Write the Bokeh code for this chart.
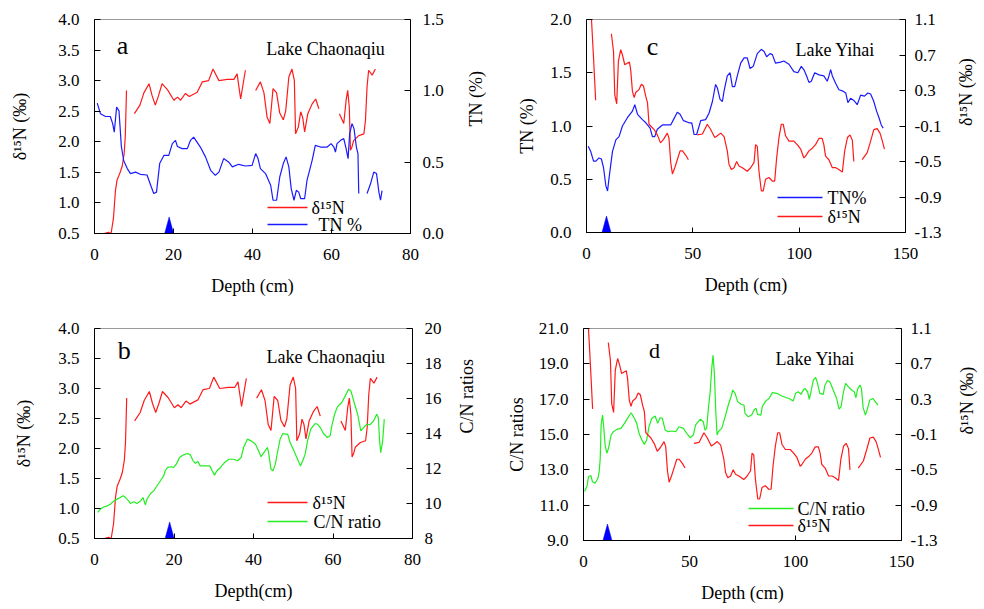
import math
from bokeh.plotting import figure
from bokeh.models import Range1d, LinearAxis, Label, FixedTicker
from bokeh.layouts import column, row
from bokeh.embed import file_html
from bokeh.resources import INLINE

NaN = float("nan")

# ---------------- Lake Chaonaqiu (panels a, b) ----------------
cha_d15n_depth = [2.5, 3.5, 4.2, 4.8, 5.3, 5.7, 6.5, 7.0, 7.5, 7.8, 8.1, NaN,
                  10.1, 11.5, 12.5, 13.8, 14.6, 15.4, 16.2, 17.1, 18.5, 20.1, 21.0, 21.8, 23.0, 24.0, 26.0, 27.3, 28.9, 30.0, 31.5, 33.6, 35.3, 36.1, 37.0, 38.2, NaN,
                  40.8, 42.0, 42.9, 43.7, 44.4, 45.2, 46.1, 46.9, 47.8, 48.4, 49.2, 50.0, 50.6, 50.9, 51.6, 52.2, 52.7, 53.2, 54.0, 55.1, 56.0, 56.8, NaN,
                  62.0, 63.1, 63.7, 64.1, 64.5, 64.8, 65.2, 65.6, 66.9, 68.2, 68.6, 69.0, 69.4, 70.3, 71.1]
cha_d15n = [0.50, 0.52, 0.50, 0.75, 1.20, 1.37, 1.50, 1.60, 1.80, 2.10, 2.84, NaN,
            2.46, 2.60, 2.80, 2.95, 2.75, 2.60, 2.75, 2.95, 2.85, 2.68, 2.73, 2.68, 2.79, 2.74, 2.81, 2.98, 3.00, 3.19, 3.00, 3.02, 3.02, 3.11, 2.70, 3.17, NaN,
            2.84, 2.98, 2.80, 2.40, 2.30, 2.87, 2.80, 2.47, 2.36, 2.50, 3.06, 3.19, 3.00, 2.13, 2.24, 2.49, 2.40, 2.16, 2.46, 2.62, 2.70, 2.54, NaN,
            2.46, 2.30, 2.68, 2.84, 2.57, 1.86, 1.92, 2.02, 2.10, 2.13, 2.35, 2.90, 3.17, 3.09, 3.19]

cha_tn_depth = [0.7, 1.5, 2.8, 4.0, 4.6, 5.0, 5.6, 6.2, 6.8, 7.4, 8.3, 9.1, 10.4, 11.6, 13.3, 14.2, 15.0, 15.7, 16.5, 17.6, 18.8, 19.7, 20.5, 21.0, 22.2, 23.5, 24.3, 25.1, 26.8, 28.1, 29.4, 30.6, 31.5, 32.7, 34.0, 34.9, 36.5, 38.2, 39.9, 40.8, 41.4, 42.0, 43.3, 44.6, 45.2, 46.1, 46.9, 47.8, 48.5, 49.2, 49.8, 50.5, 51.1, 51.7, 52.2, 53.2, 53.8, 55.1, 55.9, 57.2, 58.9, 59.9, 60.6, 61.0, 61.4, 62.3, 63.1, 63.7, 64.2, 64.6, 65.2, 65.7, 66.3, 66.7, 66.9, NaN,
                69.0, 69.9, 70.7, 71.4, 72.0, 72.4, 72.8]
cha_tn = [0.914, 0.84, 0.82, 0.82, 0.77, 0.71, 0.886, 0.86, 0.61, 0.51, 0.455, 0.42, 0.43, 0.415, 0.41, 0.34, 0.28, 0.29, 0.49, 0.548, 0.548, 0.63, 0.653, 0.61, 0.595, 0.595, 0.653, 0.676, 0.606, 0.537, 0.443, 0.408, 0.43, 0.525, 0.50, 0.467, 0.485, 0.473, 0.478, 0.56, 0.525, 0.455, 0.42, 0.338, 0.233, 0.233, 0.396, 0.49, 0.537, 0.467, 0.315, 0.233, 0.303, 0.29, 0.245, 0.245, 0.373, 0.513, 0.618, 0.606, 0.606, 0.63, 0.606, 0.571, 0.63, 0.653, 0.665, 0.595, 0.525, 0.70, 0.77, 0.735, 0.606, 0.56, 0.28, NaN,
          0.28, 0.35, 0.43, 0.42, 0.29, 0.233, 0.30]

cha_cn_depth = [0.8, 1.5, 2.3, 3.2, 4.0, 4.9, 5.7, 6.5, 7.2, 7.8, 8.6, 9.0, 9.9, 10.7, 11.6, 12.2, 12.8, 13.2, 14.1, 14.9, 15.7, 16.6, 17.4, 17.8, 18.4, 19.3, 19.9, 20.6, 21.4, 22.4, 23.4, 24.1, 24.8, 25.4, 26.0, 26.6, 27.9, 29.0, 29.6, 30.2, 30.8, 31.7, 32.7, 33.8, 35.0, 36.0, 36.9, 37.5, 38.5, 39.6, 40.5, 41.3, 41.9, 42.6, 43.5, 43.8, 44.4, 44.9, 45.5, 46.1, 46.7, 47.4, 48.0, 48.6, 49.2, 50.1, 50.9, 51.8, 52.4, 53.0, 53.6, 54.4, 55.5, 56.1, 56.8, 57.6, 58.6, 59.3, 59.7, 60.4, 61.1, 62.2, 63.1, 63.9, 64.5, 65.2, 66.2, 67.0, 67.7, 68.5, 69.3, 70.2, 71.0, 71.4, 71.7, 72.0, 72.5, 72.9]
cha_cn = [9.49, 9.68, 9.80, 9.86, 9.96, 10.15, 10.25, 10.34, 10.44, 10.34, 10.15, 10.0, 10.1, 10.0, 10.15, 10.34, 9.92, 10.25, 10.57, 10.72, 11.0, 11.3, 11.58, 11.87, 12.06, 12.1, 12.06, 12.25, 12.63, 12.78, 12.86, 12.78, 12.44, 12.3, 12.4, 12.15, 12.15, 12.15, 11.87, 11.62, 11.87, 12.06, 12.34, 12.53, 12.53, 12.44, 12.63, 13.2, 13.68, 13.55, 13.39, 13.0, 12.67, 12.91, 13.2, 12.91, 11.96, 11.87, 12.25, 13.0, 13.68, 14.0, 13.96, 13.96, 13.48, 13.05, 12.63, 12.15, 12.44, 12.82, 13.58, 14.25, 14.57, 14.53, 14.34, 14.0, 13.77, 13.87, 14.44, 15.1, 15.52, 15.77, 16.15, 16.53, 16.44, 15.87, 15.1, 14.15, 14.34, 14.53, 14.5, 14.72, 15.1, 14.91, 13.68, 12.91, 13.58, 14.82]

cha_event_depth = [18.9]

# ---------------- Lake Yihai (panels c, d) ----------------
yi_tn_depth = [0.8, 2.0, 3.3, 4.4, 5.9, 7.0, 8.0, 9.1, 9.9, 10.6, 12.2, 13.8, 15.3, 16.9, 19.3, 21.6, 22.7, 24.0, 26.3, 27.9, 29.9, 31.0, 32.1, 33.3, 35.7, 38.0, 39.6, 40.9, 42.7, 44.0, 45.6, 48.2, 49.5, 50.6, 51.8, 53.7, 56.0, 57.6, 59.2, 60.7, 61.5, 62.8, 63.9, 64.7, 66.2, 67.5, 68.6, 69.7, 70.9, 72.5, 74.1, 75.6, 76.9, 78.4, 80.3, 82.2, 83.5, 84.7, 86.3, 87.4, 88.9, 91.3, 92.8, 95.2, 97.5, 99.4, 101.0, 102.2, 103.5, 104.6, 105.7, 107.3, 109.3, 111.6, 113.2, 114.0, 114.8, 115.6, 117.2, 118.7, 120.3, 121.9, 122.9, 124.2, 125.7, 127.3, 128.9, 130.7, 132.3, 133.6, 135.1, 136.4, 137.5, 138.6, 139.5]
yi_tn = [0.81, 0.76, 0.67, 0.67, 0.70, 0.69, 0.61, 0.44, 0.39, 0.51, 0.76, 0.87, 0.90, 1.00, 1.08, 1.14, 1.20, 1.11, 1.06, 1.03, 0.98, 0.90, 0.90, 0.97, 1.01, 1.01, 1.01, 1.06, 1.13, 1.11, 1.05, 1.03, 1.03, 0.92, 0.92, 1.05, 1.06, 1.12, 1.23, 1.39, 1.36, 1.25, 1.23, 1.33, 1.47, 1.50, 1.37, 1.37, 1.47, 1.59, 1.64, 1.64, 1.54, 1.56, 1.68, 1.72, 1.70, 1.65, 1.68, 1.67, 1.59, 1.60, 1.61, 1.58, 1.51, 1.50, 1.56, 1.53, 1.47, 1.41, 1.42, 1.50, 1.48, 1.47, 1.42, 1.47, 1.53, 1.47, 1.40, 1.34, 1.33, 1.31, 1.22, 1.26, 1.24, 1.20, 1.29, 1.28, 1.31, 1.30, 1.23, 1.14, 1.08, 1.01, 0.98]

yi_d15n_depth = [2.3, 3.3, 4.3, NaN,
                 11.7, 12.7, 13.3, 14.2, 15.0, 16.1, 16.9, 18.0, 19.3, 20.2, 20.8, 21.6, 22.4, 23.2, 24.7, 25.8, 26.8, 27.9, 28.7, 29.4, 30.2, 31.8, 33.3, 34.8, 36.2, 38.0, 38.8, 39.6, 40.4, 41.5, 42.7, 44.0, 45.1, 46.7, 47.9, NaN,
                 52.1, 54.5, 56.8, 58.4, 60.3, 61.5, 63.1, 64.7, 66.2, 67.0, 68.1, 69.4, 70.6, 71.7, 73.3, 75.6, 77.2, 78.8, 79.5, 80.3, 81.1, 82.2, 83.1, 84.2, 85.8, 87.4, 88.5, 89.4, 90.5, 91.6, 92.5, 93.6, 95.2, 97.5, 99.1, 100.7, 102.2, 103.0, 104.6, 106.2, 107.7, 109.3, 110.8, 111.6, 112.4, 114.0, 115.6, 117.2, 118.7, 120.3, 121.4, 122.7, 123.9, 125.0, 125.7, NaN,
                 129.6, 132.0, 133.6, 135.1, 136.7, 138.0, 139.0, 140.1]
yi_d15n = [1.12, 0.67, 0.19, NaN,
           0.94, 0.74, 0.25, 0.15, 0.63, 0.76, 0.70, 0.59, 0.61, 0.62, 0.53, 0.29, 0.22, 0.28, 0.31, 0.37, 0.35, 0.23, 0.16, -0.08, -0.10, -0.14, -0.20, -0.29, -0.25, -0.18, -0.24, -0.51, -0.64, -0.57, -0.48, -0.38, -0.38, -0.43, -0.48, NaN,
           -0.20, -0.19, -0.08, -0.14, -0.23, -0.21, -0.18, -0.22, -0.38, -0.53, -0.59, -0.57, -0.50, -0.55, -0.57, -0.61, -0.57, -0.51, -0.31, -0.33, -0.61, -0.83, -0.83, -0.70, -0.68, -0.72, -0.72, -0.46, -0.23, -0.08, -0.08, -0.21, -0.27, -0.27, -0.31, -0.36, -0.46, -0.44, -0.38, -0.35, -0.31, -0.24, -0.24, -0.31, -0.44, -0.48, -0.57, -0.57, -0.59, -0.62, -0.38, -0.23, -0.20, -0.26, -0.50, NaN,
           -0.48, -0.40, -0.27, -0.14, -0.13, -0.18, -0.26, -0.36]

yi_cn_depth = [0.5, 1.6, 2.4, 3.5, 4.2, 5.5, 6.8, 7.4, 7.9, 8.3, 9.0, 9.6, 10.2, 11.0, 11.8, 13.0, 14.1, 15.7, 17.7, 19.3, 21.2, 22.5, 23.6, 25.1, 26.2, 27.5, 28.7, 29.8, 30.9, 32.2, 33.8, 35.0, 36.1, 37.2, 38.5, 40.0, 41.6, 43.5, 45.1, 47.1, 48.7, 50.3, 51.8, 52.9, 55.0, 56.5, 57.3, 58.1, 58.9, 59.7, 60.5, 61.1, 61.7, 62.4, 63.0, 63.6, 65.2, 66.8, 68.3, 69.6, 70.4, 71.5, 72.7, 74.3, 75.7, 76.2, 77.7, 79.3, 80.6, 81.4, 82.1, 83.7, 84.3, 85.9, 87.5, 89.1, 91.1, 93.5, 95.8, 97.4, 98.9, 100.0, 101.3, 102.6, 103.7, 104.4, 105.7, 106.5, 107.3, 108.4, 109.5, 110.4, 111.5, 113.1, 113.9, 115.1, 116.2, 117.8, 119.4, 120.5, 121.5, 122.5, 123.6, 124.9, 126.5, 127.7, 128.5, 129.3, 130.4, 131.1, 131.9, 133.0, 134.0, 135.0, 136.6, 137.4, 138.9]
yi_cn = [11.77, 12.05, 12.62, 12.67, 12.33, 12.24, 12.52, 12.9, 13.65, 15.54, 16.1, 15.35, 14.4, 13.94, 14.22, 14.97, 15.16, 15.29, 15.35, 15.63, 16.0, 16.23, 16.0, 15.63, 15.07, 14.69, 14.44, 14.69, 15.44, 15.91, 16.05, 15.63, 15.95, 15.91, 15.26, 15.16, 15.2, 15.16, 15.44, 15.35, 15.07, 14.82, 14.97, 15.54, 15.86, 15.73, 15.25, 15.35, 16.48, 17.33, 18.74, 19.49, 18.55, 16.29, 14.97, 15.16, 15.35, 16.0, 16.67, 17.14, 17.52, 17.33, 16.86, 16.71, 16.67, 16.2, 16.0, 16.1, 16.42, 16.48, 16.14, 16.1, 16.57, 16.89, 17.04, 17.37, 17.33, 17.18, 17.08, 17.01, 16.89, 17.33, 17.42, 17.27, 17.52, 17.61, 17.42, 16.99, 17.42, 18.08, 18.23, 17.89, 17.33, 17.27, 17.8, 18.06, 17.99, 17.52, 17.04, 16.44, 16.57, 17.33, 17.9, 17.71, 17.52, 17.42, 17.08, 17.57, 17.8, 17.61, 16.52, 16.1, 16.48, 16.95, 17.04, 16.89, 16.67]

yi_event_depth_c = [9.4]
yi_event_depth_d = [11.3]

# tick values
cha_d15n_ticks = [0.5, 1.0, 1.5, 2.0, 2.5, 3.0, 3.5, 4.0]
cha_tn_ticks = [0.0, 0.5, 1.0, 1.5]
cha_cn_ticks = [8, 10, 12, 14, 16, 18, 20]
cha_depth_ticks = [0, 20, 40, 60, 80]
yi_tn_ticks = [0.0, 0.5, 1.0, 1.5, 2.0]
yi_d15n_ticks = [-1.3, -0.9, -0.5, -0.1, 0.3, 0.7, 1.1]
yi_cn_ticks = [9, 11, 13, 15, 17, 19, 21]
yi_depth_ticks = [0, 50, 100, 150]

FONT = "Liberation Serif"
RED = "#ff1a1a"
BLUE = "#1a1aff"
GREEN = "#22ee22"
LW = 1.2
LEG_LW = 1.6
TICK_FS = "17px"
LAB_FS = "18px"


def fmt_overrides(ticks, fmt):
    return {t: fmt.format(t) for t in ticks}


def style_axis(ax, side, label_standoff=14, tick_standoff=12):
    ax.axis_line_color = "black"
    ax.major_tick_line_color = "black"
    ax.minor_tick_line_color = None
    ax.major_tick_out = 0
    ax.major_label_text_font = FONT
    ax.major_label_text_font_size = TICK_FS
    ax.major_label_text_color = "black"
    ax.axis_label_text_font = FONT
    ax.axis_label_text_font_size = LAB_FS
    ax.axis_label_text_font_style = "normal"
    ax.axis_label_text_color = "black"
    if side == "left":
        ax.major_tick_in = 6
        ax.major_label_standoff = 15
        ax.axis_label_standoff = label_standoff
    elif side == "right":
        ax.major_tick_in = 6
        ax.major_label_standoff = tick_standoff
        ax.axis_label_standoff = label_standoff
        ax.axis_label_orientation = math.pi / 2
    else:
        ax.major_tick_in = 5
        ax.major_label_standoff = 15
        ax.axis_label_standoff = 13


def make_panel(frame, borders, xr, yl, yr, xticks, lticks, lfmt, rticks, rfmt,
               xlabel, ylabel_l, ylabel_r, left_standoff, right_standoffs):
    fw, fh = frame
    bl, br, bt, bb = borders
    p = figure(frame_width=fw, frame_height=fh, output_backend="svg", toolbar_location=None,
               x_range=Range1d(*xr), y_range=Range1d(*yl),
               min_border_left=bl, min_border_right=br, min_border_top=bt, min_border_bottom=bb,
               x_axis_label=xlabel, y_axis_label=ylabel_l)
    p.extra_y_ranges = {"r": Range1d(*yr)}
    p.xgrid.visible = False
    p.ygrid.visible = False
    p.outline_line_color = "#9a9a9a"
    p.outline_line_width = 1
    p.background_fill_color = "white"
    p.border_fill_color = "white"
    p.xaxis.ticker = FixedTicker(ticks=xticks)
    p.yaxis.ticker = FixedTicker(ticks=lticks)
    p.yaxis.major_label_overrides = fmt_overrides(lticks, lfmt)
    ax_r = LinearAxis(y_range_name="r", axis_label=ylabel_r, ticker=FixedTicker(ticks=rticks),
                      major_label_overrides=fmt_overrides(rticks, rfmt))
    p.add_layout(ax_r, "right")
    style_axis(p.xaxis[0], "below")
    style_axis(p.yaxis[0], "left", left_standoff)
    style_axis(ax_r, "right", right_standoffs[1], right_standoffs[0])
    return p


def px_to_data(p, frame, px, py):
    fw, fh = frame
    xr, yr = p.x_range, p.y_range
    return (xr.start + px * (xr.end - xr.start) / fw,
            yr.start + py * (yr.end - yr.start) / fh)


def add_event(p, depths, frame):
    fw, fh = frame
    xr, yr = p.x_range, p.y_range
    half_w = 4.5 * (xr.end - xr.start) / fw
    h = 16.5 * (yr.end - yr.start) / fh
    y0 = yr.start
    for d in depths:
        p.patch([d - half_w, d, d + half_w], [y0, y0 + h, y0], fill_color="#0000ff",
                line_color="#0000ff", line_width=0.5)


def add_legend(p, frame, entries, x0, glyph_w, text_dx):
    # entries: (label, colour, row centre in px above the frame bottom)
    for (label, color, cy), tdx in zip(entries, text_dx):
        xa, ya = px_to_data(p, frame, x0, cy)
        xb, _ = px_to_data(p, frame, x0 + glyph_w, cy)
        xt, _ = px_to_data(p, frame, x0 + glyph_w + tdx, cy)
        p.segment(x0=[xa], y0=[ya], x1=[xb], y1=[ya], line_color=color, line_width=LEG_LW)
        p.add_layout(Label(x=xt, y=ya, text=label, text_font=FONT, text_font_size=LAB_FS,
                           text_align="left", text_baseline="middle", text_color="black"))


def add_texts(p, letter, lx, ly, lsize, name, nx, ny):
    p.add_layout(Label(x=lx, y=ly, text=letter, text_font=FONT, text_font_size=lsize,
                       text_align="center", text_baseline="middle", text_color="black"))
    p.add_layout(Label(x=nx, y=ny, text=name, text_font=FONT, text_font_size=LAB_FS,
                       text_align="left", text_baseline="alphabetic", text_color="black"))


# ---------- panel a ----------
FA = (316, 214)
pa = make_panel(FA, (94, 78, 19, 67), (0, 80), (0.5, 4.0), (0.0, 1.5),
                cha_depth_ticks, cha_d15n_ticks, "{:.1f}", cha_tn_ticks, "{:.1f}",
                "Depth (cm)", "δ¹⁵N (‰)", "TN (%)", 25, (12, 29))
pa.line(cha_d15n_depth, cha_d15n, line_color=RED, line_width=LW)
pa.line(cha_tn_depth, cha_tn, line_color=BLUE, line_width=LW, y_range_name="r")
add_event(pa, cha_event_depth, FA)
add_legend(pa, FA, [("δ¹⁵N", RED, 26), ("TN %", BLUE, 9)], 173, 40, (4, 11))
add_texts(pa, "a", 7.1, 3.575, "26px", "Lake Chaonaqiu", 43.5, 3.51)

# ---------- panel c ----------
FC = (319, 213)
pc = make_panel(FC, (88, 77, 15, 72), (0, 150), (0.0, 2.0), (-1.3, 1.1),
                yi_depth_ticks, yi_tn_ticks, "{:.1f}", yi_d15n_ticks, "{:.1f}",
                "Depth (cm)", "TN (%)", "δ¹⁵N (‰)", 10, (9, 22))
pc.line(yi_tn_depth, yi_tn, line_color=BLUE, line_width=LW)
pc.line(yi_d15n_depth, yi_d15n, line_color=RED, line_width=LW, y_range_name="r")
add_event(pc, yi_event_depth_c, FC)
add_legend(pc, FC, [("TN%", BLUE, 35), ("δ¹⁵N", RED, 16)], 191, 45, (5, 5))
add_texts(pc, "c", 31.0, 1.746, "26px", "Lake Yihai", 98.3, 1.718)

# ---------- panel b ----------
FB = (318, 210)
pb = make_panel(FB, (94, 76, 28, 66), (0, 80), (0.5, 4.0), (8, 20),
                cha_depth_ticks, cha_d15n_ticks, "{:.1f}", cha_cn_ticks, "{:d}",
                "Depth(cm)", "δ¹⁵N (‰)", "C/N ratios", 21, (12, 22))
pb.line(cha_d15n_depth, cha_d15n, line_color=RED, line_width=LW)
pb.line(cha_cn_depth, cha_cn, line_color=GREEN, line_width=LW, y_range_name="r")
add_event(pb, cha_event_depth, FB)
add_legend(pb, FB, [("δ¹⁵N", RED, 36), ("C/N ratio", GREEN, 17)], 173, 40, (5, 6))
add_texts(pb, "b", 7.5, 3.63, "26px", "Lake Chaonaqiu", 43.3, 3.53)

# ---------- panel d ----------
FD = (318, 212)
pd_ = make_panel(FD, (94, 83, 27, 66), (0, 150), (9, 21), (-1.3, 1.1),
                 yi_depth_ticks, yi_cn_ticks, "{:.1f}", yi_d15n_ticks, "{:.1f}",
                 "Depth (cm)", "C/N ratios", "δ¹⁵N (‰)", 9, (9, 27))
pd_.line(yi_cn_depth, yi_cn, line_color=GREEN, line_width=LW)
pd_.line(yi_d15n_depth, yi_d15n, line_color=RED, line_width=LW, y_range_name="r")
add_event(pd_, yi_event_depth_d, FD)
add_legend(pd_, FD, [("C/N ratio", GREEN, 32), ("δ¹⁵N", RED, 15)], 165, 45, (4, 4))
add_texts(pd_, "d", 33.5, 19.75, "22px", "Lake Yihai", 90.6, 19.25)

layout = column(row(pa, pc), row(pb, pd_))
open("out.html", "w").write(file_html(layout, INLINE))
